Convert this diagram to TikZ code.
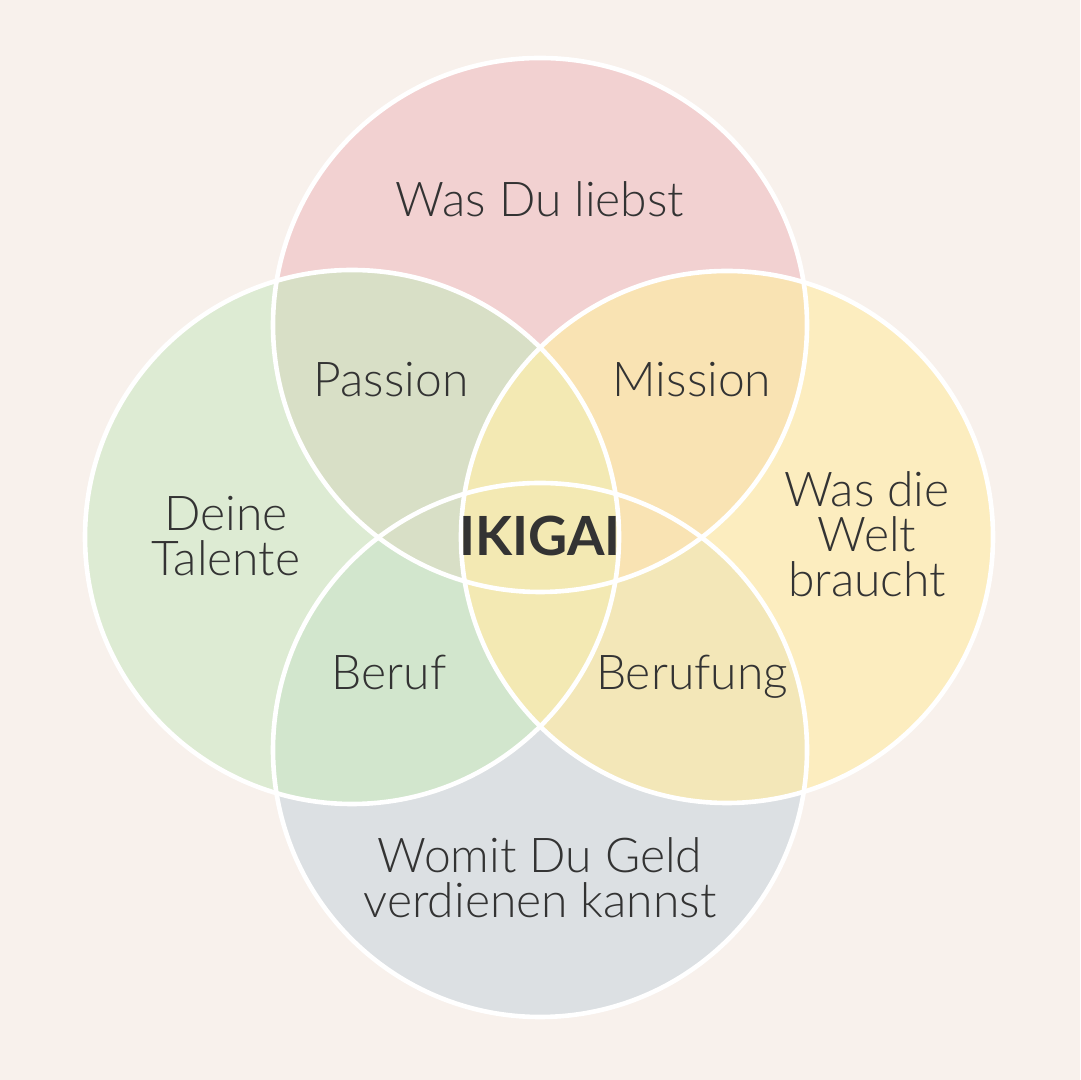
\documentclass[tikz,border=0pt]{standalone}
\usepackage{fontspec}
\setmainfont{Lato}[UprightFont={* Light}, BoldFont={* Bold}]
\definecolor{paper}{HTML}{F8F1EC}
\definecolor{ink}{HTML}{333333}
\definecolor{lovec}{HTML}{F2D1D1}
\definecolor{talentc}{HTML}{DDEBD3}
\definecolor{worldc}{HTML}{FCEDBF}
\definecolor{moneyc}{HTML}{DCE0E3}
\definecolor{passionc}{HTML}{D8DFC6}
\definecolor{missionc}{HTML}{F9E3B3}
\definecolor{berufc}{HTML}{D2E6CD}
\definecolor{berufungc}{HTML}{F3E7B8}
\definecolor{corec}{HTML}{F3E9B3}
\tikzset{
  ring/.style={draw=white, line width=2.3pt},
  lbl/.style={text=ink, font=\fontsize{24}{22.5}\selectfont, align=center, inner sep=0pt},
}

\begin{document}
\begin{tikzpicture}[x=0.5pt, y=0.5pt]
\fill[paper] (0,0) rectangle (1080,1080);
\coordinate (love) at (540,755);
\coordinate (talent) at (352,543);
\coordinate (world) at (727,543);
\coordinate (money) at (540,330);
% the four circles
\fill[lovec] (love) circle (267);
\fill[talentc] (talent) circle (267);
\fill[worldc] (world) circle (266);
\fill[moneyc] (money) circle (267);
% overlaps
\begin{scope}
  \clip (money) circle (267);
  \fill[berufc] (talent) circle (267);
  \fill[berufungc] (world) circle (266);
\end{scope}
\begin{scope}
  \clip (love) circle (267);
  \fill[passionc] (talent) circle (267);
  \fill[missionc] (world) circle (266);
\end{scope}
\begin{scope}
  \clip (talent) circle (267);
  \fill[corec] (world) circle (266);
\end{scope}
% white rings on top
\foreach \p/\rad in {love/267, talent/267, world/266, money/267}
  \draw[ring] (\p) circle (\rad);
% labels
\node[lbl, anchor=base] (liebst) at (540,863) {Was Du liebst};
\node[lbl, anchor=base] (passion) at (391,683) {Passion};
\node[lbl, anchor=base] (mission) at (692,683) {Mission};
\node[lbl] (talente) at (226,544) {Deine\\Talente};
\node[lbl, font=\fontsize{27}{27}\selectfont\bfseries, anchor=base] (ikigai) at (540,524) {IKIGAI};
\node[lbl] (welt) at (867,546) {Was die\\Welt\\braucht};
\node[lbl, anchor=base] (beruf) at (389,390) {Beruf};
\node[lbl, anchor=base] (berufung) at (692,390) {Berufung};
\node[lbl] (geld) at (540,202) {Womit Du Geld\\verdienen kannst};
\end{tikzpicture}
\end{document}
